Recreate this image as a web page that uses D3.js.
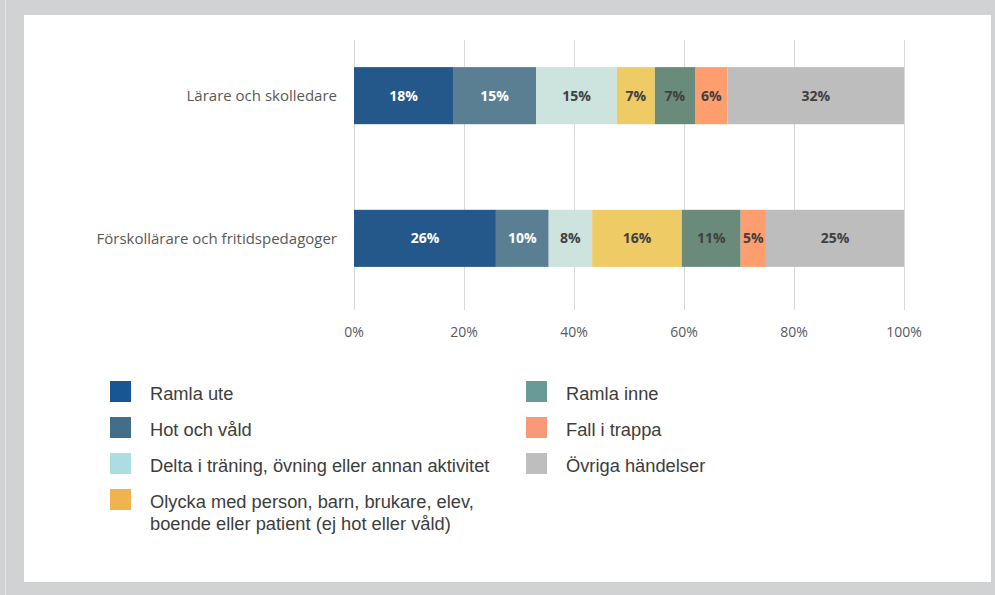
<!DOCTYPE html>
<html>
<head>
<meta charset="utf-8">
<script src="https://cdn.jsdelivr.net/npm/d3@7"></script>
<style>
  html, body { margin: 0; padding: 0; background: #d1d2d4; }
  svg { display: block; }
</style>
</head>
<body>
<div id="chart"></div>
<script>
const categories = ["Lärare och skolledare", "Förskollärare och fritidspedagoger"];
const seriesKeys = ["ramlaUte", "hot", "delta", "olycka", "ramlaInne", "trappa", "ovriga"];
const lararValues = [18.0, 15.1, 14.7, 6.9, 7.3, 5.9, 32.1];
const forskolValues = [25.8, 9.6, 7.9, 16.3, 10.7, 4.6, 25.1];
const xTicks = [0, 20, 40, 60, 80, 100];

const barColors = ["#24588a", "#5b7f92", "#cde3dd", "#eecb65", "#6a8b7c", "#fe9e6e", "#bdbdbd"];
const barTextColors = ["#ffffff", "#ffffff", "#404040", "#404040", "#404040", "#404040", "#404040"];

// legend uses its own palette, as in the report
const legendLabels = [
  ["Ramla ute"],
  ["Hot och våld"],
  ["Delta i träning, övning eller annan aktivitet"],
  ["Olycka med person, barn, brukare, elev,", "boende eller patient (ej hot eller våld)"],
  ["Ramla inne"],
  ["Fall i trappa"],
  ["Övriga händelser"]
];
const legendColors = ["#175693", "#426e8a", "#acdde3", "#f0b44e", "#6a9a98", "#f89a7a", "#bebebe"];

const W = 995, H = 595;

const svg = d3.select("#chart").append("svg")
  .attr("width", W)
  .attr("height", H);

// frame
svg.append("rect").attr("x", 0).attr("y", 0).attr("width", W).attr("height", H).attr("fill", "#d1d2d4");
svg.append("rect").attr("x", 5).attr("y", 0).attr("width", 1).attr("height", H).attr("fill", "#e4e5e6");
svg.append("rect").attr("x", 24).attr("y", 15).attr("width", 967).attr("height", 567).attr("fill", "#fff");

const table = categories.map((c, i) => {
  const row = { cat: c };
  const vals = i === 0 ? lararValues : forskolValues;
  seriesKeys.forEach((k, j) => row[k] = vals[j]);
  return row;
});

const stacked = d3.stack().keys(seriesKeys)(table);

const x = d3.scaleLinear().domain([0, 100]).range([354, 904]);
const y = d3.scaleBand().domain(categories).range([40, 294])
  .paddingInner(0.6).paddingOuter(0.19);

const gridTop = 40, gridBottom = 310;

// gridlines
svg.append("g")
  .selectAll("line")
  .data(xTicks)
  .join("line")
  .attr("x1", d => x(d) + 0.5)
  .attr("x2", d => x(d) + 0.5)
  .attr("y1", gridTop)
  .attr("y2", gridBottom)
  .attr("stroke", "#d9d9d9")
  .attr("stroke-width", 1);

// tick labels
svg.append("g")
  .attr("font-family", "'Open Sans', sans-serif")
  .attr("font-size", 14)
  .attr("fill", "#595959")
  .attr("text-anchor", "middle")
  .selectAll("text")
  .data(xTicks)
  .join("text")
  .attr("x", d => x(d))
  .attr("y", 337)
  .text(d => d + "%");

// category labels
svg.append("g")
  .attr("font-family", "'Open Sans', sans-serif")
  .attr("font-size", 15)
  .attr("fill", "#595959")
  .attr("text-anchor", "end")
  .selectAll("text")
  .data(categories)
  .join("text")
  .attr("x", 337)
  .attr("y", d => y(d) + y.bandwidth() / 2)
  .attr("dy", "0.35em")
  .text(d => d);

// bars
const layers = svg.append("g")
  .selectAll("g")
  .data(stacked)
  .join("g")
  .attr("fill", (d, i) => barColors[i]);

layers.selectAll("rect")
  .data(d => d)
  .join("rect")
  .attr("x", d => x(d[0]))
  .attr("y", d => y(d.data.cat))
  .attr("width", d => x(d[1]) - x(d[0]))
  .attr("height", y.bandwidth());

// value labels
const labels = svg.append("g")
  .attr("font-family", "'Open Sans', sans-serif")
  .attr("font-size", 14)
  .attr("font-weight", "bold")
  .attr("text-anchor", "middle");

stacked.forEach((layer, i) => {
  labels.selectAll(null)
    .data(layer)
    .join("text")
    .attr("x", d => (x(d[0]) + x(d[1])) / 2)
    .attr("y", d => y(d.data.cat) + y.bandwidth() / 2)
    .attr("dy", "0.36em")
    .attr("fill", barTextColors[i])
    .text(d => Math.round(d[1] - d[0]) + "%");
});

// legend
const legendRows = [0, 1, 2, 3, 0, 1, 2];
const legend = svg.append("g")
  .attr("font-family", "'Liberation Sans', Arial, sans-serif")
  .attr("font-size", 18.3)
  .attr("fill", "#3d3d3d");

const item = legend.selectAll("g")
  .data(legendLabels)
  .join("g")
  .attr("transform", (d, i) => `translate(${i < 4 ? 110 : 526},${381 + legendRows[i] * 36})`);

item.append("rect")
  .attr("width", 21)
  .attr("height", 21)
  .attr("fill", (d, i) => legendColors[i]);

item.append("text")
  .attr("x", 40)
  .selectAll("tspan")
  .data(d => d)
  .join("tspan")
  .attr("x", 40)
  .attr("y", (d, i) => 19 + i * 22)
  .text(d => d);
</script>
</body>
</html>
